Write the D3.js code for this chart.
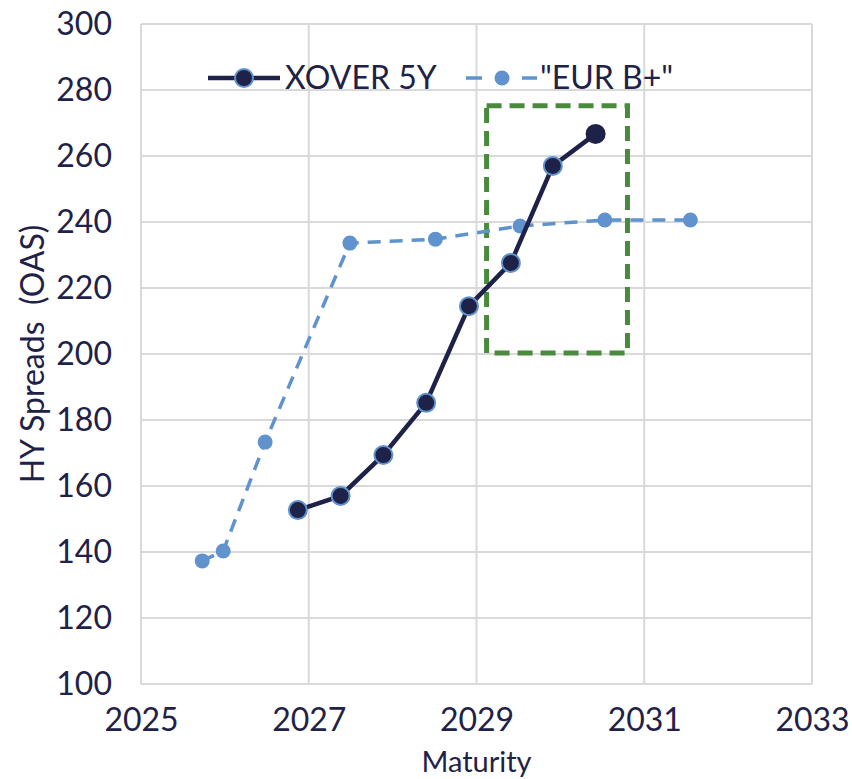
<!DOCTYPE html>
<html>
<head>
<meta charset="utf-8">
<script src="https://cdn.jsdelivr.net/npm/d3@7"></script>
<style>
  html, body { margin: 0; padding: 0; background: #fff; }
  svg { display: block; font-family: Lato, "Noto Sans", sans-serif; }
  .grid line { stroke: #d9d9d9; stroke-width: 2; }
  .tick text { fill: #1f2248; }
</style>
</head>
<body>
<div id="chart"></div>
<script>
// maturity (year fraction) and spread (bp)
var xoverDates = [2026.87, 2027.38, 2027.89, 2028.40, 2028.91, 2029.41, 2029.91, 2030.42];
var xoverSpreads = [152.7, 157.0, 169.4, 185.2, 214.5, 227.6, 257.0, 266.7];

var eurDates = [2025.73, 2025.98, 2026.48, 2027.49, 2028.51, 2029.52, 2030.53, 2031.55];
var eurSpreads = [137.3, 140.3, 173.3, 233.6, 234.8, 238.8, 240.6, 240.6];

var xTicks = [2025, 2027, 2029, 2031, 2033];
var yTicks = [100, 120, 140, 160, 180, 200, 220, 240, 260, 280, 300];

// highlighted window: [x0, x1], [y0, y1]
var boxDates = [2029.12, 2030.8];
var boxSpreads = [200.3, 275.2];

var seriesNames = ['XOVER 5Y', '"EUR B+"'];

var W = 852, H = 779;
var margin = { top: 24, left: 141, right: 40, bottom: 95 };
var width = 812 - margin.left;
var height = 684 - margin.top;

var ink = '#1f2248';
var dark = '#1f2248';
var light = '#6092cd';
var green = '#4a8a3c';

var svg = d3.select('#chart').append('svg')
  .attr('width', W)
  .attr('height', H);

var g = svg.append('g')
  .attr('transform', 'translate(' + margin.left + ',' + margin.top + ')');

var x = d3.scaleLinear().domain([2025, 2033]).range([0, width]);
var y = d3.scaleLinear().domain([100, 300]).range([height, 0]);

// gridlines
var grid = g.append('g').attr('class', 'grid');
grid.selectAll('line.h')
  .data(yTicks)
  .enter().append('line')
  .attr('x1', 0).attr('x2', width)
  .attr('y1', function(d) { return y(d); })
  .attr('y2', function(d) { return y(d); });
grid.selectAll('line.v')
  .data(xTicks)
  .enter().append('line')
  .attr('y1', 0).attr('y2', height)
  .attr('x1', function(d) { return x(d); })
  .attr('x2', function(d) { return x(d); });

// axes (labels only, lines come from grid)
var yAxis = d3.axisLeft(y).tickValues(yTicks).tickSize(0).tickPadding(29)
  .tickFormat(d3.format('d'));
var xAxis = d3.axisBottom(x).tickValues(xTicks).tickSize(0).tickPadding(24)
  .tickFormat(d3.format('d'));

var ya = g.append('g').call(yAxis);
var xa = g.append('g').attr('transform', 'translate(0,' + height + ')').call(xAxis);
[ya, xa].forEach(function(a) {
  a.select('.domain').remove();
  a.selectAll('text')
    .style('font-size', '32px')
    .style('font-family', 'Lato, sans-serif');
});

// axis titles
svg.append('text')
  .attr('x', margin.left + width / 2)
  .attr('y', 772)
  .attr('text-anchor', 'middle')
  .style('font-size', '29px')
  .style('fill', ink)
  .text('Maturity');

svg.append('text')
  .attr('transform', 'translate(44,' + (margin.top + height / 2) + ') rotate(-90)')
  .attr('text-anchor', 'middle')
  .attr('xml:space', 'preserve')
  .style('white-space', 'pre')
  .style('font-size', '32px')
  .style('fill', ink)
  .text('HY Spreads  (OAS)');

// highlight box
g.append('rect')
  .attr('x', x(boxDates[0]))
  .attr('y', y(boxSpreads[1]))
  .attr('width', x(boxDates[1]) - x(boxDates[0]))
  .attr('height', y(boxSpreads[0]) - y(boxSpreads[1]))
  .attr('fill', 'none')
  .attr('stroke', green)
  .attr('stroke-width', 5)
  .attr('stroke-dasharray', '15,8');

var line = d3.line()
  .x(function(d) { return x(d[0]); })
  .y(function(d) { return y(d[1]); });

var eur = d3.zip(eurDates, eurSpreads);
var xover = d3.zip(xoverDates, xoverSpreads);

g.append('path')
  .attr('d', line(eur))
  .attr('fill', 'none')
  .attr('stroke', light)
  .attr('stroke-width', 3.5)
  .attr('stroke-dasharray', '13,9');

g.selectAll('circle.eur')
  .data(eur)
  .enter().append('circle')
  .attr('class', 'eur')
  .attr('cx', function(d) { return x(d[0]); })
  .attr('cy', function(d) { return y(d[1]); })
  .attr('r', 7.5)
  .attr('fill', light);

g.append('path')
  .attr('d', line(xover))
  .attr('fill', 'none')
  .attr('stroke', dark)
  .attr('stroke-width', 4.5);

g.selectAll('circle.xover')
  .data(xover)
  .enter().append('circle')
  .attr('class', 'xover')
  .attr('cx', function(d) { return x(d[0]); })
  .attr('cy', function(d) { return y(d[1]); })
  .attr('r', function(d, i) { return i === xover.length - 1 ? 10 : 9; })
  .attr('fill', dark)
  .attr('stroke', function(d, i) { return i === xover.length - 1 ? 'none' : light; })
  .attr('stroke-width', 2);

// legend
var legend = svg.append('g').attr('transform', 'translate(0,78)');
legend.append('line')
  .attr('x1', 208).attr('x2', 280)
  .attr('stroke', dark).attr('stroke-width', 4.5);
legend.append('circle')
  .attr('cx', 244).attr('r', 9)
  .attr('fill', dark).attr('stroke', light).attr('stroke-width', 2);
legend.append('text')
  .attr('x', 285).attr('dy', '0.35em')
  .style('font-size', '32px').style('fill', ink)
  .text(seriesNames[0]);

legend.append('line')
  .attr('x1', 466).attr('x2', 537)
  .attr('stroke', light).attr('stroke-width', 3.5)
  .attr('stroke-dasharray', '16,40');
legend.append('circle')
  .attr('cx', 502).attr('r', 7.5)
  .attr('fill', light);
legend.append('text')
  .attr('x', 540).attr('dy', '0.35em')
  .style('font-size', '32px').style('fill', ink)
  .text(seriesNames[1]);
</script>
</body>
</html>
